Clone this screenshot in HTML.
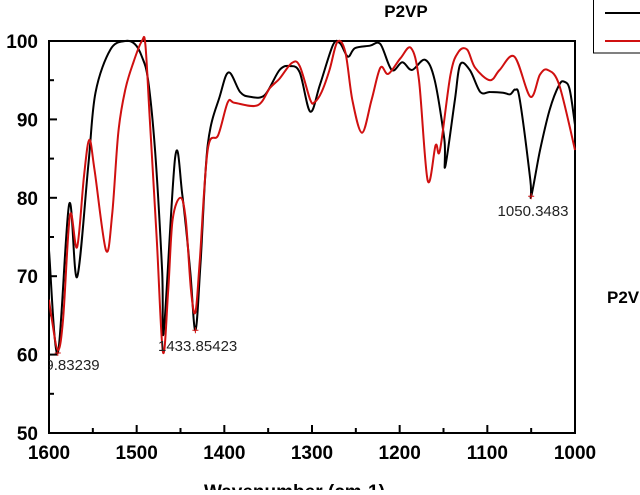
<!DOCTYPE html>
<html><head><meta charset="utf-8"><style>
body{margin:0;background:#fff;width:640px;height:490px;overflow:hidden}
text{font-family:"Liberation Sans",Arial,sans-serif}
</style></head><body>
<svg id="chart" width="640" height="490" viewBox="0 0 640 490" xmlns="http://www.w3.org/2000/svg">
<text x="406" y="17" font-size="17" font-weight="bold" text-anchor="middle">P2VP</text>
<g>
<rect x="593.5" y="-2" width="60" height="55" fill="#fff" stroke="#000" stroke-width="1"/>
<line x1="605" y1="13" x2="640" y2="13" stroke="#000" stroke-width="2"/>
<line x1="605" y1="41" x2="640" y2="41" stroke="#d01010" stroke-width="2"/>
</g>
<text x="607" y="303" font-size="17" font-weight="bold">P2V</text>
<text x="204" y="498" font-size="19" font-weight="bold">Wavenumber (cm-1)</text>
<defs><clipPath id="plotclip"><rect x="49" y="30" width="540" height="403"/></clipPath></defs>
<g id="axes"></g>
<g id="series"></g>
</svg>
<script>
const blackW=[1600,1590,1577,1568,1555,1547,1530,1513,1502,1494,1487,1479,1471,1469,1456,1448,1439,1433,1427,1419,1405,1395,1382,1371,1354,1337,1325,1314,1302,1291,1276,1268,1259,1251,1234,1222,1209,1197,1186,1171,1160,1149,1148,1137,1131,1120,1108,1097,1082,1074,1068,1063,1051,1050,1040,1029,1018,1012,1006,1000];
const blackV=[73.3,60.2,79.2,69.9,84.4,93.4,98.9,100,99.6,98,95,86,70.8,63,85.2,80.4,70.8,63.1,72,86.7,93,96,93.5,92.9,93.1,96.3,96.8,96,91,94.4,99.5,99.7,98,99.1,99.4,99.6,96.3,97.3,96.3,97.6,95,87.4,84,92.5,97,96.3,93.5,93.5,93.4,93.2,93.8,92.5,82.3,80.2,86,91.2,94.4,94.8,93.8,89.3];
const redW=[1600,1597,1590,1584,1576,1568,1560,1554,1548,1535,1528,1521,1513,1504,1494,1490,1485,1477,1470,1464,1459,1450,1444,1438,1433,1428,1419,1407,1396,1388,1362,1348,1337,1323,1314,1302,1297,1289,1280,1271,1262,1254,1243,1232,1222,1213,1199,1187,1178,1168,1159,1154,1142,1133,1123,1114,1097,1086,1069,1051,1040,1031,1018,1000];
const redV=[67,64.7,60.6,64.4,77.8,73.7,82.9,87.4,83.5,73.3,77.8,88.3,93.8,97.2,100,99.5,90,74.6,60.3,68.2,77.2,80,77.2,68.2,65.4,72,86.1,88,92.2,92.1,91.8,94,95.2,97.2,96.8,92.5,92.2,93.5,96.3,99.9,98.6,92.5,88.3,92.5,96.6,95.8,97.8,99.1,95,82.2,86.7,86.1,95.7,98.6,98.9,96.6,95,96.3,98,92.9,95.7,96.3,94.4,86.1];
const xTicks=[1600,1500,1400,1300,1200,1100,1000];
const yTicks=[50,60,70,80,90,100];
const annW=[1590,1433,1050];
const annV=[60.2,63.1,80.2];
const annLabels=["1589.83239","1433.85423","1050.3483"];
const L=49,R=575,T=41,B=433,NS="http://www.w3.org/2000/svg";
const xs=w=>L+(1600-w)*(R-L)/600;
const ys=v=>B-(v-50)*(B-T)/50;
function mk(tag,attrs,parent){const e=document.createElementNS(NS,tag);for(const k in attrs)e.setAttribute(k,attrs[k]);parent.appendChild(e);return e;}
const axes=document.getElementById('axes'),ser=document.getElementById('series');
ser.setAttribute('clip-path','url(#plotclip)');
for(let w=1600;w>=1000;w-=50){const major=w%100===0;const t=mk('line',{x1:xs(w),x2:xs(w),y1:B,y2:B-(major?8:5),stroke:'#000','stroke-width':2},axes);

}
for(let v=50;v<=100;v+=5){const major=v%10===0;const t=mk('line',{x1:L,x2:L+(major?8:5),y1:ys(v),y2:ys(v),stroke:'#000','stroke-width':2},axes);

}
xTicks.forEach(w=>{const t=mk('text',{x:xs(w),y:459,'font-size':19,'font-weight':'bold','text-anchor':'middle'},axes);t.textContent=w;

});
yTicks.forEach(v=>{const t=mk('text',{x:38,y:ys(v)+7,'font-size':19,'font-weight':'bold','text-anchor':'end'},axes);t.textContent=v;

});
function line(W,V,color,name){const P=W.map((w,i)=>[xs(w),ys(V[i])]);
let d='M'+P[0][0].toFixed(1)+','+P[0][1].toFixed(1);
for(let i=0;i<P.length-1;i++){const p0=P[Math.max(0,i-1)],p1=P[i],p2=P[i+1],p3=P[Math.min(P.length-1,i+2)];
const c1=[p1[0]+(p2[0]-p0[0])/6,p1[1]+(p2[1]-p0[1])/6],c2=[p2[0]-(p3[0]-p1[0])/6,p2[1]-(p3[1]-p1[1])/6];
d+=`C${c1[0].toFixed(1)},${c1[1].toFixed(1)} ${c2[0].toFixed(1)},${c2[1].toFixed(1)} ${p2[0].toFixed(1)},${p2[1].toFixed(1)}`;}
const p=mk('path',{d:d,fill:'none',stroke:color,'stroke-width':2,'stroke-linejoin':'round'},ser);

}
line(blackW,blackV,'#000','series-black');
line(redW,redV,'#d01010','series-red');
const pos=[[60,370,'middle'],[158,351,'start'],[533,216,'middle']];
annW.forEach((w,i)=>{const x=xs(w),y=ys(annV[i]);
const m=mk('path',{d:`M${x-3},${y}H${x+3}M${x},${y-3}V${y+3}`,stroke:'#d01010','stroke-width':1},ser);


const t=mk('text',{x:pos[i][0],y:pos[i][1],'font-size':15,fill:'#222','text-anchor':pos[i][2]},ser);t.textContent=annLabels[i];

});
const frame=mk('rect',{x:L,y:T,width:R-L,height:B-T,fill:'none',stroke:'#000','stroke-width':2},axes);


</script>
</body></html>
